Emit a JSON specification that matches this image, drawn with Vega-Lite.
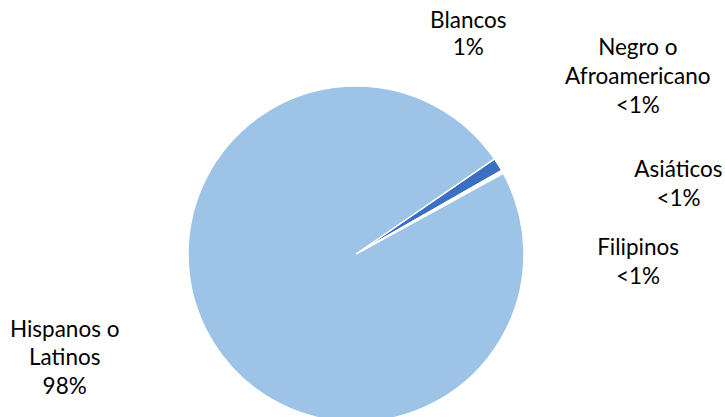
{
  "$schema": "https://vega.github.io/schema/vega-lite/v6.json",
  "width": 725,
  "height": 417,
  "padding": 0,
  "autosize": {"type": "fit", "contains": "padding"},
  "background": "white",
  "view": {"stroke": null},
  "data": {
    "values": [
      {"cat": "Blancos", "v": 1.3, "rank": 1, "label": "Blancos\n1%"},
      {"cat": "Negro o Afroamericano", "v": 0.1, "rank": 2, "label": "Negro o\nAfroamericano\n<1%"},
      {"cat": "Asiáticos", "v": 0.1, "rank": 3, "label": "Asiáticos\n<1%"},
      {"cat": "Filipinos", "v": 0.1, "rank": 4, "label": "Filipinos\n<1%"},
      {"cat": "Hispanos o Latinos", "v": 98.4, "rank": 5, "label": "Hispanos o\nLatinos\n98%"}
    ]
  },
  "encoding": {
    "theta": {"field": "v", "type": "quantitative", "stack": true, "scale": {"range": [0.9687, 7.2519]}},
    "order": {"field": "rank", "type": "quantitative"}
  },
  "layer": [
    {
      "mark": {"type": "arc", "outerRadius": 168, "x": 356, "y": 254, "stroke": "white", "strokeWidth": 1.5},
      "encoding": {
        "color": {
          "field": "cat", "type": "nominal", "legend": null,
          "scale": {
            "domain": ["Blancos", "Negro o Afroamericano", "Asiáticos", "Filipinos", "Hispanos o Latinos"],
            "range": ["#3C6EC2", "#D6E4F4", "#E4EDF8", "#EDF3FA", "#9DC3E6"]
          }
        }
      }
    },
    {
      "mark": {"type": "text", "x": 356, "y": 254, "radius": 200, "dx": -57, "dy": -127, "font": "Lato", "fontSize": 22.5, "lineHeight": 27, "lineBreak": "\n", "align": "center", "baseline": "middle", "color": "black"},
      "encoding": {
        "detail": {"field": "cat"},
        "text": {"condition": {"test": "datum.cat == 'Blancos'", "field": "label"}, "value": ""}
      }
    },
    {
      "mark": {"type": "text", "x": 356, "y": 254, "radius": 200, "dx": 108, "dy": -107, "font": "Lato", "fontSize": 22.5, "lineHeight": 29, "lineBreak": "\n", "align": "center", "baseline": "middle", "color": "black"},
      "encoding": {
        "detail": {"field": "cat"},
        "text": {"condition": {"test": "datum.cat == 'Negro o Afroamericano'", "field": "label"}, "value": ""}
      }
    },
    {
      "mark": {"type": "text", "x": 356, "y": 254, "radius": 200, "dx": 148, "dy": 14, "font": "Lato", "fontSize": 22.5, "lineHeight": 29, "lineBreak": "\n", "align": "center", "baseline": "middle", "color": "black"},
      "encoding": {
        "detail": {"field": "cat"},
        "text": {"condition": {"test": "datum.cat == 'Asiáticos'", "field": "label"}, "value": ""}
      }
    },
    {
      "mark": {"type": "text", "x": 356, "y": 254, "radius": 200, "dx": 107, "dy": 91, "font": "Lato", "fontSize": 22.5, "lineHeight": 29, "lineBreak": "\n", "align": "center", "baseline": "middle", "color": "black"},
      "encoding": {
        "detail": {"field": "cat"},
        "text": {"condition": {"test": "datum.cat == 'Filipinos'", "field": "label"}, "value": ""}
      }
    },
    {
      "mark": {"type": "text", "x": 356, "y": 254, "radius": 200, "dx": -121, "dy": -29, "font": "Lato", "fontSize": 22.5, "lineHeight": 28.5, "lineBreak": "\n", "align": "center", "baseline": "middle", "color": "black"},
      "encoding": {
        "detail": {"field": "cat"},
        "text": {"condition": {"test": "datum.cat == 'Hispanos o Latinos'", "field": "label"}, "value": ""}
      }
    }
  ]
}
